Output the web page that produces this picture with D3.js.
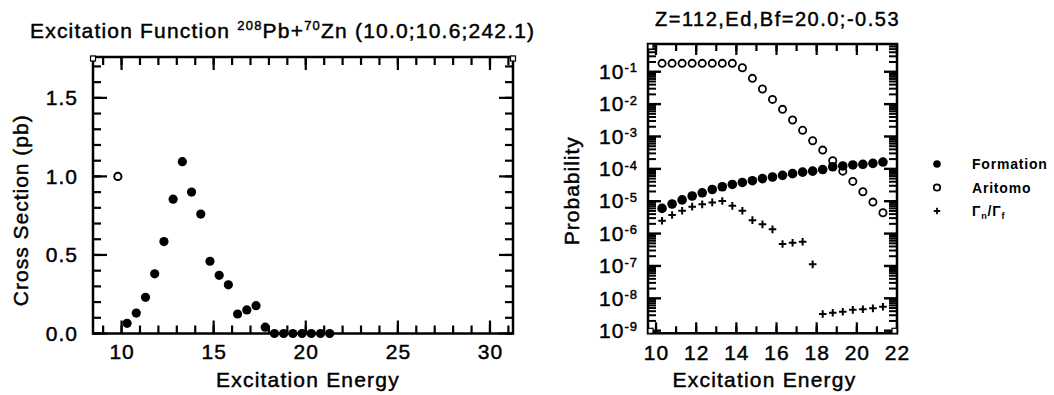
<!DOCTYPE html>
<html>
<head>
<meta charset="utf-8">
<script src="https://cdn.jsdelivr.net/npm/d3@7"></script>
<style>
  body { margin: 0; background: #fff; }
  svg { font-family: "Liberation Sans", Arial, sans-serif; }
  .heavy { stroke: #000; stroke-width: 0.45px; }
</style>
</head>
<body>
<svg id="chart" width="1054" height="395"></svg>
<script>
// excitation energies shared by both panels
const energy = [10.3, 10.8, 11.3, 11.8, 12.3, 12.8, 13.3, 13.8, 14.3, 14.8, 15.3, 15.8,
  16.3, 16.8, 17.3, 17.8, 18.3, 18.8, 19.3, 19.8, 20.3, 20.8, 21.3];

// left panel: calculated cross section (pb) and the single measured point
const crossSection = [0.065, 0.13, 0.23, 0.38, 0.585, 0.855, 1.094, 0.90, 0.76, 0.46, 0.37, 0.31,
  0.124, 0.15, 0.177, 0.04, 0, 0, 0, 0, 0, 0, 0];
const measuredEnergy = [9.8];
const measuredCS = [1.0];

// right panel: probabilities (log scale)
const formation = [6.0e-6, 8.2e-6, 1.1e-5, 1.45e-5, 1.82e-5, 2.3e-5, 2.8e-5, 3.3e-5, 3.8e-5, 4.3e-5,
  5.0e-5, 5.6e-5, 6.3e-5, 7.1e-5, 7.9e-5, 8.5e-5, 9.5e-5, 1.16e-4, 1.23e-4, 1.32e-4, 1.38e-4, 1.48e-4, 1.62e-4];
const aritomo = [0.182, 0.182, 0.182, 0.182, 0.182, 0.182, 0.182, 0.182, 0.133, 0.0625, 0.0292, 0.014,
  0.00689, 0.00322, 0.00155, 7.4e-4, 3.8e-4, 1.78e-4, 8.5e-5, 4.1e-5, 1.96e-5, 9.4e-6, 4.4e-6];
const gammaRatio = [2.5e-6, 3.74e-6, 5.1e-6, 6.8e-6, 8.0e-6, 9.2e-6, 1.01e-5, 7.2e-6, 5.1e-6, 2.6e-6,
  1.93e-6, 1.35e-6, 4.75e-7, 5.2e-7, 5.6e-7, 1.12e-7, 3.27e-9, 3.6e-9, 3.85e-9, 4.4e-9, 4.6e-9, 4.9e-9, 5.5e-9];

// tick labels
const csTicks = [0, 0.5, 1.0, 1.5];
const energyTicksLeft = [10, 15, 20, 25, 30];
const energyTicksRight = [10, 12, 14, 16, 18, 20, 22];
const probExponents = [-1, -2, -3, -4, -5, -6, -7, -8, -9];
const legendLabels = ['Formation', 'Aritomo', 'ratio'];

const svg = d3.select('#chart');
const FONT = 21;

const noDomain = (g) => g.select('.domain').remove();

// inward tick marks drawn from a scale: side is 'bottom' | 'top' | 'left' | 'right'
function tickMarks(parent, scale, values, side, at, len, width) {
  const horiz = side === 'bottom' || side === 'top';
  const dir = side === 'bottom' || side === 'right' ? -1 : 1;
  parent.append('g').selectAll('line').data(values).join('line')
    .attr('x1', (d) => horiz ? scale(d) : at)
    .attr('x2', (d) => horiz ? scale(d) : at + dir * len)
    .attr('y1', (d) => horiz ? at : scale(d))
    .attr('y2', (d) => horiz ? at + dir * len : scale(d))
    .attr('stroke', '#000').attr('stroke-width', width);
}

// ---------- left panel ----------
const L = { left: 93, right: 513, top: 57, bottom: 333.5 };
const xL = d3.scaleLinear().domain([8.45, 31.25]).range([L.left, L.right]);
const yL = d3.scaleLinear().domain([0, 1.76]).range([L.bottom, L.top]);

const left = svg.append('g');
const minorE = xL.ticks(23).filter((v) => Number.isInteger(v));
const minorCS = yL.ticks(17);

tickMarks(left, xL, minorE, 'bottom', L.bottom, 8, 2.2);
tickMarks(left, xL, minorE, 'top', L.top, 8, 2.2);
tickMarks(left, yL, minorCS, 'left', L.left, 8, 2.2);
tickMarks(left, yL, minorCS, 'right', L.right, 8, 2.2);
tickMarks(left, xL, energyTicksLeft, 'bottom', L.bottom, 13, 2.2);
tickMarks(left, xL, energyTicksLeft, 'top', L.top, 13, 2.2);
tickMarks(left, yL, csTicks, 'left', L.left, 14, 2.2);
tickMarks(left, yL, csTicks, 'right', L.right, 14, 2.2);

left.append('g').attr('transform', `translate(0,${L.bottom})`)
  .call(d3.axisBottom(xL).tickValues(energyTicksLeft).tickSize(0).tickPadding(11))
  .call(noDomain);
left.append('g').attr('transform', `translate(${L.left},0)`)
  .call(d3.axisLeft(yL).tickValues(csTicks).tickSize(0).tickPadding(15).tickFormat(d3.format('.1f')))
  .call(noDomain);

left.append('rect')
  .attr('x', L.left).attr('y', L.top)
  .attr('width', L.right - L.left).attr('height', L.bottom - L.top)
  .attr('fill', 'none').attr('stroke', '#000').attr('stroke-width', 2.5);

// corner boxes
left.selectAll('rect.corner').data([L.left, L.right]).join('rect')
  .attr('class', 'corner')
  .attr('x', (d) => d - 2.5).attr('y', L.top - 1)
  .attr('width', 5).attr('height', 5)
  .attr('fill', '#fff').attr('stroke', '#000').attr('stroke-width', 1.2);

left.append('g').selectAll('circle')
  .data(energy.map((e, i) => [e, crossSection[i]]))
  .join('circle')
  .attr('cx', (d) => xL(d[0])).attr('cy', (d) => yL(d[1]))
  .attr('r', 4.6).attr('fill', '#000');

left.append('g').selectAll('circle')
  .data(measuredEnergy.map((e, i) => [e, measuredCS[i]]))
  .join('circle')
  .attr('cx', (d) => xL(d[0])).attr('cy', (d) => yL(d[1]))
  .attr('r', 3.6).attr('fill', '#fff').attr('stroke', '#000').attr('stroke-width', 2);

// ---------- right panel ----------
const R = { left: 648, right: 897, top: 44, bottom: 333.3 };
const xR = d3.scaleLinear().domain([9.6, 22]).range([R.left, R.right]);
const yR = d3.scaleLog().domain([8.3e-10, 0.72]).range([R.bottom, R.top]);

const right = svg.append('g');
const decades = probExponents.map((e) => Math.pow(10, e));
const minorLog = yR.ticks().filter((v) => !decades.some((d) => Math.abs(v / d - 1) < 1e-6));
const minorER = xR.ticks(12);

tickMarks(right, xR, minorER, 'bottom', R.bottom, 7, 2.2);
tickMarks(right, xR, minorER, 'top', R.top, 7, 2.2);
tickMarks(right, xR, energyTicksRight, 'bottom', R.bottom, 11, 2.2);
tickMarks(right, xR, energyTicksRight, 'top', R.top, 11, 2.2);
tickMarks(right, yR, minorLog, 'left', R.left, 8, 2);
tickMarks(right, yR, minorLog, 'right', R.right, 8, 2);
tickMarks(right, yR, decades, 'left', R.left, 13, 2.4);
tickMarks(right, yR, decades, 'right', R.right, 13, 2.4);

right.append('g').attr('transform', `translate(0,${R.bottom})`)
  .call(d3.axisBottom(xR).tickValues(energyTicksRight).tickSize(0).tickPadding(12))
  .call(noDomain);
right.append('g').attr('transform', `translate(${R.left},0)`)
  .call(d3.axisLeft(yR).tickValues(decades).tickSize(0).tickPadding(10).tickFormat(''))
  .call(noDomain)
  .call((g) => g.selectAll('.tick text').each(function (d) {
    const t = d3.select(this);
    t.append('tspan').text('10');
    t.append('tspan').attr('dy', '-0.5em').attr('font-size', 13).text(String(Math.round(Math.log10(d))));
  }));

right.append('rect')
  .attr('x', R.left).attr('y', R.top)
  .attr('width', R.right - R.left).attr('height', R.bottom - R.top)
  .attr('fill', 'none').attr('stroke', '#000').attr('stroke-width', 2.5);

right.selectAll('rect.corner').data([[R.left, R.bottom - 5], [R.left, R.top], [R.right - 5, R.bottom - 5]]).join('rect')
  .attr('class', 'corner')
  .attr('x', (d) => d[0]).attr('y', (d) => d[1])
  .attr('width', 5).attr('height', 5)
  .attr('fill', '#fff').attr('stroke', '#000').attr('stroke-width', 1.2);

const plus = 'M-3.8,0H3.8M0,-3.8V3.8';

right.append('g').selectAll('circle')
  .data(energy.map((e, i) => [e, aritomo[i]]))
  .join('circle')
  .attr('cx', (d) => xR(d[0])).attr('cy', (d) => yR(d[1]))
  .attr('r', 3.6).attr('fill', '#fff').attr('stroke', '#000').attr('stroke-width', 1.8);

right.append('g').selectAll('circle')
  .data(energy.map((e, i) => [e, formation[i]]))
  .join('circle')
  .attr('cx', (d) => xR(d[0])).attr('cy', (d) => yR(d[1]))
  .attr('r', 4.8).attr('fill', '#000');

right.append('g').selectAll('path')
  .data(energy.map((e, i) => [e, gammaRatio[i]]))
  .join('path')
  .attr('transform', (d) => `translate(${xR(d[0])},${yR(d[1])})`)
  .attr('d', plus).attr('stroke', '#000').attr('stroke-width', 2);

// ---------- text ----------
svg.selectAll('.tick text').attr('font-size', FONT).attr('fill', '#000').attr('class', 'heavy')
  .attr('font-family', '"Liberation Sans", Arial, sans-serif').attr('letter-spacing', 1);

const title = svg.append('text').attr('x', 30).attr('y', 38).attr('class', 'heavy')
  .attr('font-size', FONT).attr('letter-spacing', 1.2);
title.append('tspan').text('Excitation Function ');
title.append('tspan').attr('font-size', 13).attr('dy', -8).text('208');
title.append('tspan').attr('dy', 8).text('Pb+');
title.append('tspan').attr('font-size', 13).attr('dy', -8).text('70');
title.append('tspan').attr('dy', 8).text('Zn (10.0;10.6;242.1)');

svg.append('text').attr('x', 655).attr('y', 26).attr('class', 'heavy')
  .attr('font-size', 20).attr('letter-spacing', 1.5)
  .text('Z=112,Ed,Bf=20.0;-0.53');

svg.append('text').attr('x', (L.left + L.right) / 2 + 5).attr('y', 387).attr('class', 'heavy')
  .attr('text-anchor', 'middle').attr('font-size', FONT).attr('letter-spacing', 1.2)
  .text('Excitation Energy');
svg.append('text').attr('x', (R.left + R.right) / 2 - 8).attr('y', 387).attr('class', 'heavy')
  .attr('text-anchor', 'middle').attr('font-size', FONT).attr('letter-spacing', 1.2)
  .text('Excitation Energy');

svg.append('text').attr('transform', `translate(28,${(L.top + L.bottom) / 2 + 15}) rotate(-90)`)
  .attr('class', 'heavy')
  .attr('text-anchor', 'middle').attr('font-size', FONT).attr('letter-spacing', 1)
  .text('Cross Section (pb)');
svg.append('text').attr('transform', `translate(579,${(R.top + R.bottom) / 2 + 2}) rotate(-90)`)
  .attr('class', 'heavy')
  .attr('text-anchor', 'middle').attr('font-size', FONT).attr('letter-spacing', 1)
  .text('Probability');

// ---------- legend ----------
const legend = svg.append('g').attr('transform', 'translate(937,164)');
const rows = legend.selectAll('g').data(legendLabels).join('g')
  .attr('transform', (d, i) => `translate(0,${i * 23.5})`);
rows.filter((d, i) => i === 0).append('circle').attr('r', 3.8).attr('fill', '#000');
rows.filter((d, i) => i === 1).append('circle').attr('r', 3.2)
  .attr('fill', '#fff').attr('stroke', '#000').attr('stroke-width', 1.8);
rows.filter((d, i) => i === 2).append('path').attr('d', 'M-3.2,0H3.2M0,-3.2V3.2')
  .attr('stroke', '#000').attr('stroke-width', 1.8);
rows.append('text').attr('x', 35).attr('y', 5).attr('font-size', 14).attr('font-weight', 'bold')
  .attr('letter-spacing', 0.8)
  .each(function (d) {
    const t = d3.select(this);
    if (d === 'ratio') {
      t.append('tspan').text('Γ');
      t.append('tspan').attr('font-size', 9).attr('dy', 3).text('n');
      t.append('tspan').attr('dy', -3).text('/Γ');
      t.append('tspan').attr('font-size', 9).attr('dy', 3).text('f');
    } else {
      t.text(d);
    }
  });
</script>
</body>
</html>
